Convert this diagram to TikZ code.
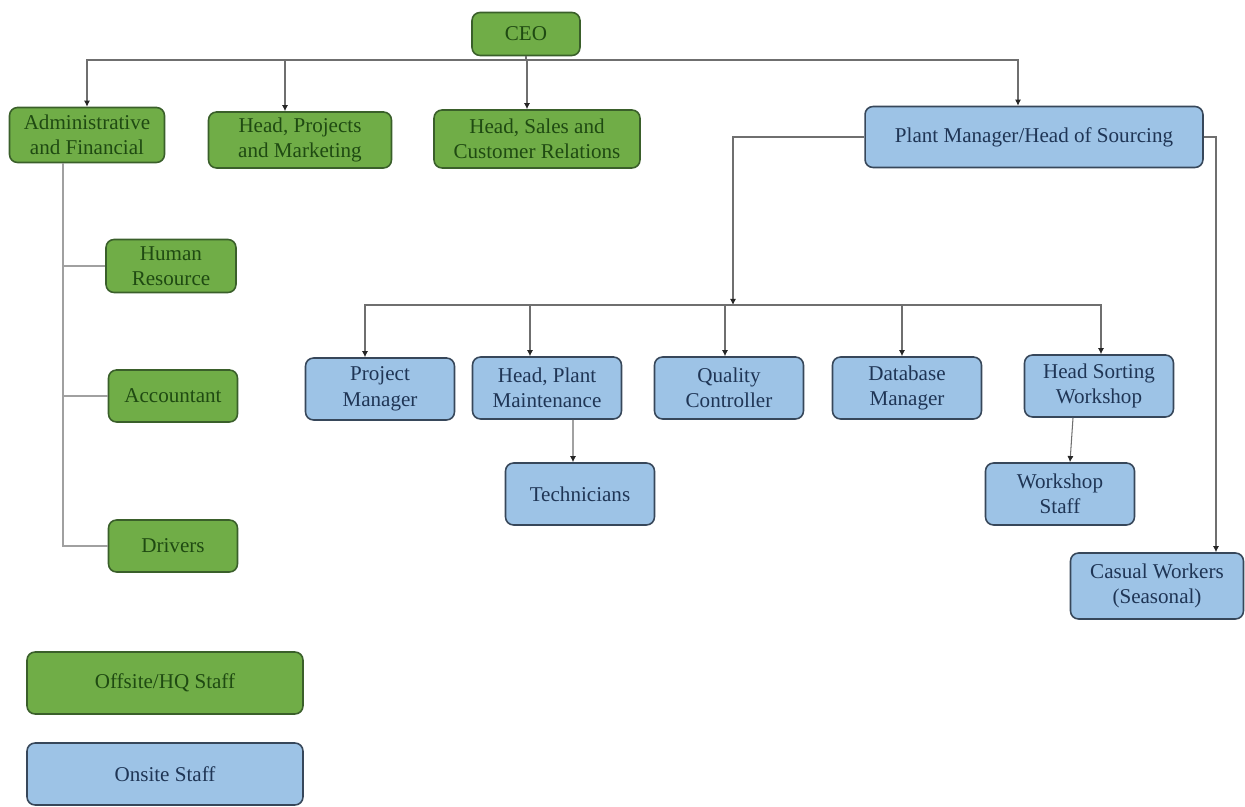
\documentclass[tikz,border=0pt]{standalone}
\usepackage{fontspec}
\setmainfont{Liberation Serif}
\usetikzlibrary{arrows.meta}

\definecolor{hqgreen}{HTML}{70AD47}
\definecolor{hqedge}{HTML}{3A5F2A}
\definecolor{hqtext}{HTML}{1F4A12}
\definecolor{siteblue}{HTML}{9DC3E6}
\definecolor{siteedge}{HTML}{37475A}
\definecolor{sitetext}{HTML}{1F3555}
\definecolor{wire}{HTML}{6F6F6F}
\definecolor{lightwire}{HTML}{A0A0A0}

\begin{document}
\begin{tikzpicture}[x=0.02cm, y=-0.02cm,
    box/.style={rounded corners=0.16cm, line width=0.9pt, inner sep=0pt, align=center,
      font=\fontsize{12}{14.5}\selectfont},
    hq/.style={box, fill=hqgreen, draw=hqedge, text=hqtext},
    site/.style={box, fill=siteblue, draw=siteedge, text=sitetext},
    arrow/.style={draw=wire, line width=0.6pt, -{Latex[length=3.5pt,width=3.5pt,color=black!85]}},
    link/.style={draw=lightwire, line width=0.8pt}]
  \useasboundingbox (0,0) rectangle (1245,807);

  % Head office
  \node[hq, minimum width=2.16cm, minimum height=0.86cm] (ceo) at (526,34) {CEO};
  \node[hq, minimum width=3.1cm, minimum height=1.1cm] (admin) at (87,135) {Administrative\\and Financial};
  \node[hq, minimum width=3.66cm, minimum height=1.12cm] (projects) at (300,140) {Head, Projects\\and Marketing};
  \node[hq, minimum width=4.12cm, minimum height=1.16cm] (sales) at (537,139) {Head, Sales and\\Customer Relations};
  \node[site, minimum width=6.76cm, minimum height=1.22cm] (plant) at (1034,137) {Plant Manager/Head of Sourcing};

  % Admin team
  \node[hq, minimum width=2.6cm, minimum height=1.06cm] (hr) at (171,266) {Human\\Resource};
  \node[hq, minimum width=2.58cm, minimum height=1.04cm] (accountant) at (173,396) {Accountant};
  \node[hq, minimum width=2.58cm, minimum height=1.04cm] (drivers) at (173,546) {Drivers};

  % Plant team
  \node[site, minimum width=2.98cm, minimum height=1.24cm] (project) at (380,389) {Project\\Manager};
  \node[site, minimum width=2.98cm, minimum height=1.24cm] (maint) at (547,388) {Head, Plant\\Maintenance};
  \node[site, minimum width=2.98cm, minimum height=1.24cm] (quality) at (729,388) {Quality\\Controller};
  \node[site, minimum width=2.98cm, minimum height=1.24cm] (database) at (907,388) {Database\\Manager};
  \node[site, minimum width=2.98cm, minimum height=1.24cm] (sorting) at (1099,386) {Head Sorting\\Workshop};
  \node[site, minimum width=2.98cm, minimum height=1.24cm] (tech) at (580,494) {Technicians};
  \node[site, minimum width=2.98cm, minimum height=1.24cm] (staff) at (1060,494) {Workshop\\Staff};
  \node[site, minimum width=3.46cm, minimum height=1.32cm] (casual) at (1157,586) {Casual Workers\\(Seasonal)};

  % Legend
  \node[hq, minimum width=5.52cm, minimum height=1.24cm] (legend hq) at (165,683) {Offsite/HQ Staff};
  \node[site, minimum width=5.52cm, minimum height=1.24cm] (legend site) at (165,774) {Onsite Staff};

  % CEO links
  \coordinate (top bus) at (526,60);
  \draw[draw=wire, line width=0.6pt] (ceo) -- (top bus);
  \draw[arrow] (top bus) -| (admin.north);
  \draw[arrow] (top bus) -| ([xshift=-0.3cm]projects.north);
  \draw[arrow] (top bus) -| ([xshift=-0.2cm]sales.north);
  \draw[arrow] (top bus) -| ([xshift=-0.32cm]plant.north);

  % Admin links
  \coordinate (admin trunk) at ([xshift=-0.48cm]admin.south);
  \foreach \n in {hr, accountant, drivers}
    \draw[link] (admin trunk) |- (\n.west);

  % Plant links
  \coordinate (mid bus) at (733,305);
  \draw[arrow] (plant.west) -| (mid bus);
  \foreach \n/\s in {project/-0.3, maint/-0.34, quality/-0.08, database/-0.1, sorting/0.04}
    \draw[arrow] (mid bus) -| ([xshift=\s cm]\n.north);
  \draw[arrow] ([xshift=0.52cm]maint.south) -- ([xshift=-0.14cm]tech.north);
  \draw[arrow] ([xshift=-0.52cm]sorting.south) -- ([xshift=0.2cm]staff.north);
  \draw[arrow] (plant.east) -| ([xshift=1.18cm]casual.north);
\end{tikzpicture}
\end{document}
